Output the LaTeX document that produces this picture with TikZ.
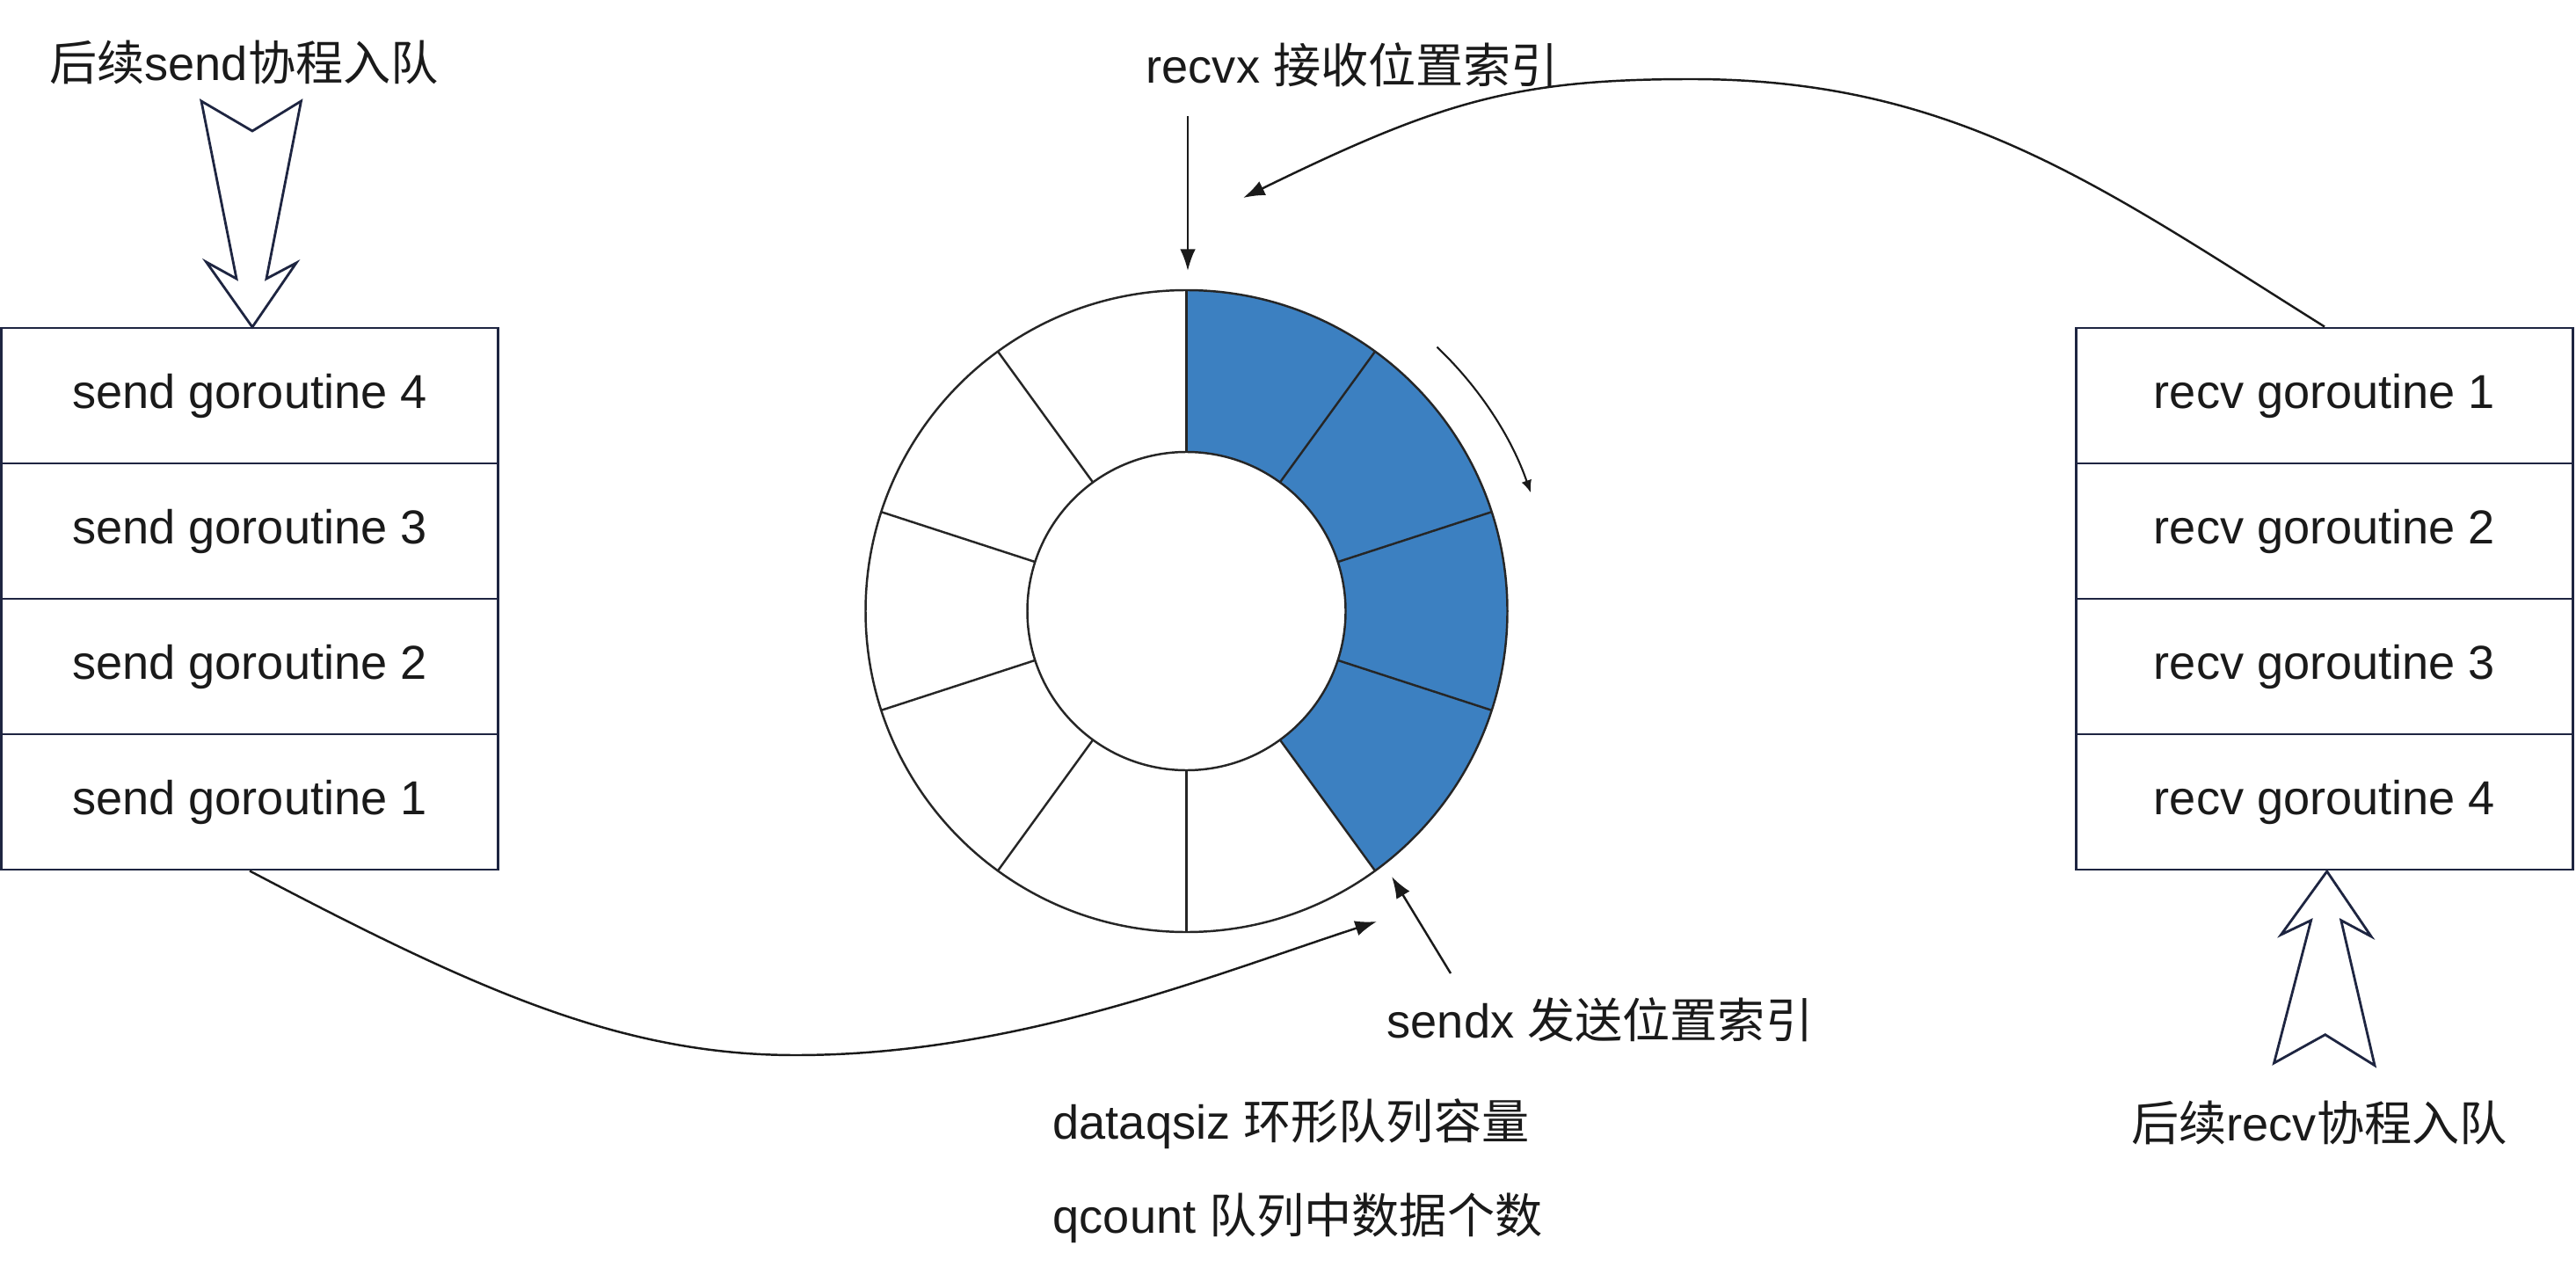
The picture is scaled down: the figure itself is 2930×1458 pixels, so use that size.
\documentclass[tikz,border=0pt]{standalone}
\usepackage{fontspec}
\setmainfont{Liberation Sans}
\newfontfamily\cjk{Noto Sans CJK SC}
\usetikzlibrary{arrows.meta}
\definecolor{qblue}{RGB}{60,128,193}
\definecolor{navy}{RGB}{30,37,65}
\definecolor{ink}{RGB}{26,26,26}
\newcommand\fsz{\fontsize{15.4pt}{18pt}\selectfont}
\begin{document}
\begin{tikzpicture}[x=0.01cm,y=-0.01cm,
  gbox/.style={draw=navy, line width=0.8pt, minimum width=5.64cm, minimum height=1.54cm, inner sep=0pt, font=\fsz, text=ink},
  lbl/.style={inner sep=0pt, font=\fsz, text=ink},
  conn/.style={draw=ink, line width=0.7pt, -{Latex[length=7pt,width=5pt]}},
  hollow/.style={draw=navy, line width=0.8pt, fill=white, line join=miter},
  ringline/.style={draw=black!85, line width=0.7pt}]
\path[use as bounding box, fill=white] (0,0) rectangle (2930,1458);

% send queue
\node[gbox] (s4) at (284,450) {send goroutine 4};
\node[gbox] (s3) at (284,604) {send goroutine 3};
\node[gbox] (s2) at (284,758) {send goroutine 2};
\node[gbox] (s1) at (284,912) {send goroutine 1};
% recv queue
\node[gbox] (r1) at (2644,450) {recv goroutine 1};
\node[gbox] (r2) at (2644,604) {recv goroutine 2};
\node[gbox] (r3) at (2644,758) {recv goroutine 3};
\node[gbox] (r4) at (2644,912) {recv goroutine 4};

% labels
\node[lbl, anchor=base] (sin) at (277.5,92) {{\cjk 后续}send{\cjk 协程入队}};
\node[lbl, anchor=base] (rin) at (2638,1297) {{\cjk 后续}recv{\cjk 协程入队}};
\node[lbl, anchor=base west] (rx) at (1303,95) {recvx {\cjk 接收位置索引}};
\node[lbl, anchor=base west] (sx) at (1577,1180) {sendx {\cjk 发送位置索引}};
\node[lbl, anchor=base west] (dq) at (1197,1295) {dataqsiz {\cjk 环形队列容量}};
\node[lbl, anchor=base west] (qc) at (1197,1402) {qcount {\cjk 队列中数据个数}};

% hollow arrows
\draw[hollow] (287,372) -- (234.6,298) -- (269,317) -- (229,115) -- (287,149) -- (342.5,115) -- (303,317) -- (337,299) -- cycle;
\draw[hollow] (2646.7,991) -- (2594.5,1063) -- (2628.6,1046.7) -- (2586.5,1209) -- (2644.7,1176.7) -- (2701,1211.7) -- (2662.8,1046.7) -- (2697,1065) -- cycle;

% ring buffer
\coordinate (C) at (1349.5,695);
\begin{scope}[shift={(C)}, x=0.01cm, y=0.01cm]
  \fill[white] (0,0) circle[radius=365];
  \fill[qblue] (90:365) arc[start angle=90,end angle=-54,radius=365] -- (-54:181) arc[start angle=-54,end angle=90,radius=181] -- cycle;
  \foreach \a in {90,54,18,-18,-54,-90,-126,-162,162,126}
    \draw[ringline] (\a:181) -- (\a:365);
  \draw[ringline] (0,0) circle[radius=365];
  \draw[ringline] (0,0) circle[radius=181];
  \draw[draw=ink, line width=0.6pt, -{Latex[length=4pt,width=3.4pt]}] (46.5:414) arc[start angle=46.5,end angle=19,radius=414];
\end{scope}

% index arrows
\coordinate (rxs) at (1351,132);
\coordinate (rxe) at (1351,308);
\draw[conn] (rxs) -- (rxe);
\coordinate (sxs) at (1650,1107);
\coordinate (sxe) at (1583,997);
\draw[conn] (sxs) -- (sxe);

% curved connectors
\coordinate (recvtip) at (1414,225);
\coordinate (sendtip) at (1566,1048);
\draw[conn] (r1.north) .. controls (2391,213) and (2224,90) .. (1924,90) .. controls (1724,90) and (1639,115) .. (recvtip);
\draw[conn] (s1.south) .. controls (540,1125) and (705,1200) .. (905,1200) .. controls (1155,1200) and (1376,1110) .. (sendtip);
\end{tikzpicture}
\end{document}
